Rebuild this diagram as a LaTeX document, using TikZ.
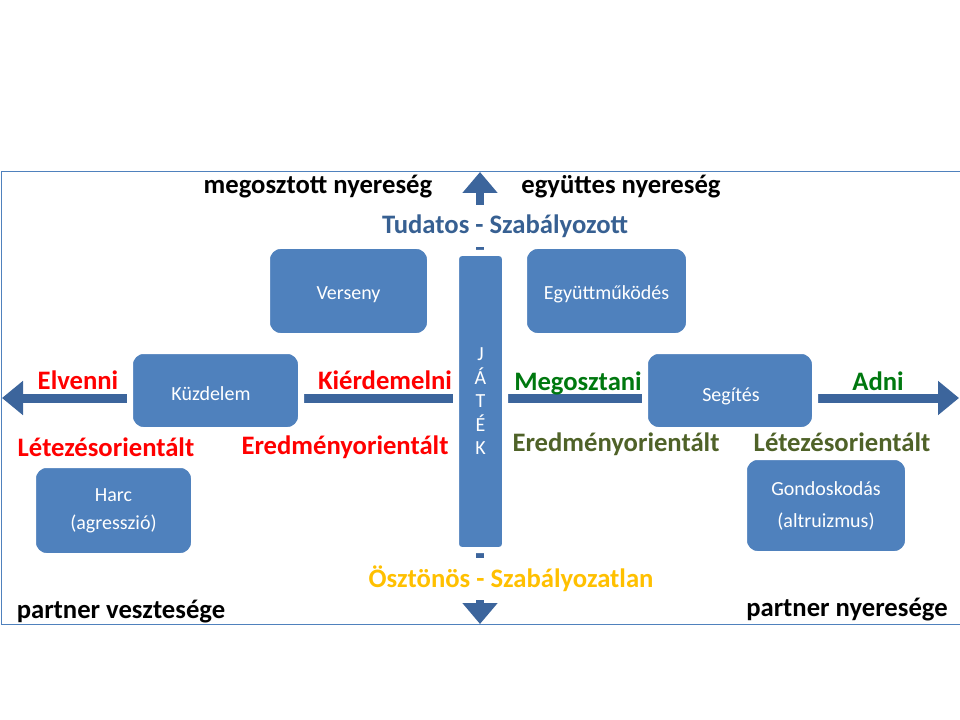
\documentclass[tikz,border=0pt]{standalone}
\usepackage{fontspec}
\setmainfont{Carlito}
\usetikzlibrary{arrows.meta}
\definecolor{boxblue}{HTML}{4F81BD}
\definecolor{arrowblue}{HTML}{3C659C}
\definecolor{tudblue}{HTML}{376092}
\definecolor{lred}{HTML}{FF0000}
\definecolor{lgreen}{HTML}{00780F}
\definecolor{olive}{HTML}{4F6228}
\definecolor{gold}{HTML}{FFC000}
\begin{document}
\begin{tikzpicture}[x=0.75pt,y=-0.75pt,
  lbl/.style={font=\fontsize{20}{24}\selectfont\bfseries, inner sep=0pt, anchor=base},
  box/.style={fill=boxblue, draw=white, line width=4.5pt, rounded corners=10pt, text=white, font=\fontsize{15}{21}\selectfont, align=center, inner sep=0pt},
  boxtext/.style={text=white, font=\fontsize{15}{21}\selectfont, inner sep=0pt, anchor=base},
  haxis/.style={draw=arrowblue, line width=6.75pt, {Triangle[width=24.75pt,length=15.75pt]}-{Triangle[width=24.75pt,length=15.75pt]}},
  vaxis/.style={draw=arrowblue, line width=6pt, {Triangle[width=25.5pt,length=15.75pt]}-{Triangle[width=25.5pt,length=15.75pt]}},
]
\useasboundingbox (0,0) rectangle (960,720);
\draw[boxblue, line width=0.75pt] (1,172) rectangle (962,624);

\coordinate (vt) at (480,172);
\coordinate (vb) at (480,624);
\coordinate (hl) at (2,398);
\coordinate (hr) at (959,398);
\draw[vaxis] (vb) -- (vt);
\draw[haxis] (hl) -- (hr);

\node[lbl, text=tudblue, fill=white, text height=21.75pt, text depth=9.75pt, inner xsep=2pt] (tudatos) at (505,234) {Tudatos - Szabályozott};
\node[lbl, text=gold, fill=white, text height=21.75pt, text depth=9.75pt, inner xsep=2pt] (osztonos) at (511,587) {Ösztönös - Szabályozatlan};

\node[box, minimum width=122.25pt, minimum height=67.5pt] (verseny) at (348.5,291) {};
\node[boxtext] at (348.5,300) {Verseny};
\node[box, minimum width=123.75pt, minimum height=67.5pt] (egyutt) at (606.5,291) {};
\node[boxtext] at (606.5,300) {Együttműködés};
\node[box, minimum width=128.25pt, minimum height=59.25pt] (kuzd) at (215.5,390.5) {};
\node[boxtext] at (211,400) {Küzdelem};
\node[box, minimum width=127.5pt, minimum height=59.25pt] (segit) at (730,390.5) {};
\node[boxtext] at (731,401) {Segítés};
\node[box, minimum width=120.75pt, minimum height=68.25pt] (harc) at (113.5,510.5) {Harc\\(agresszió)};
\node[box, minimum width=123pt, minimum height=72.75pt, font=\fontsize{15}{24}\selectfont] (gond) at (826,505.5) {Gondoskodás\\(altruizmus)};
\node[box, minimum width=36.75pt, minimum height=222.75pt, rounded corners=4pt, font=\fontsize{15}{17.6}\selectfont] (jatek) at (480.5,401.5) {J\\Á\\T\\É\\K};

\node[lbl] (megosztott) at (318,194) {megosztott nyereség};
\node[lbl] (egyuttes) at (621,194) {együttes nyereség};
\node[lbl, text=lred] (elvenni) at (78,389) {Elvenni};
\node[lbl, text=lred] (kierd) at (385,389) {Kiérdemelni};
\node[lbl, text=lgreen] (megoszt) at (578,390) {Megosztani};
\node[lbl, text=lgreen] (adni) at (878,390) {Adni};
\node[lbl, text=lred] (letl) at (106,456) {Létezésorientált};
\node[lbl, text=lred] (eredl) at (345,454) {Eredményorientált};
\node[lbl, text=olive] (eredr) at (616,451) {Eredményorientált};
\node[lbl, text=olive] (letr) at (842,451) {Létezésorientált};
\node[lbl] (pv) at (121,618) {partner vesztesége};
\node[lbl] (pn) at (847,616) {partner nyeresége};
\end{tikzpicture}
\end{document}
